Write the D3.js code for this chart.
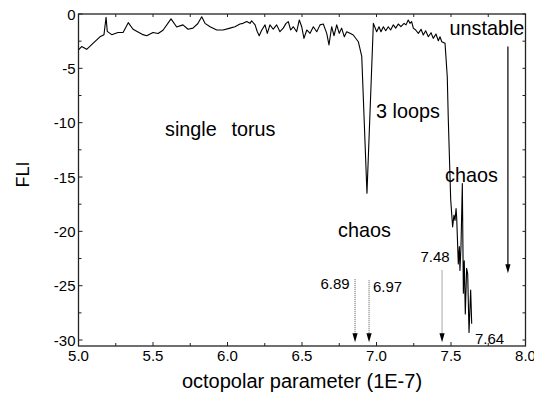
<!DOCTYPE html>
<html><head><meta charset="utf-8">
<script src="https://cdn.jsdelivr.net/npm/d3@7"></script>
<style>body{margin:0;background:#fff}svg{display:block;font-family:"Liberation Sans",Arial,sans-serif}</style>
</head><body><svg id="c" width="534" height="402"></svg>
<script>
const paramX = [5.000,5.021,5.055,5.097,5.144,5.171,5.185,5.193,5.223,5.265,5.299,5.334,5.366,5.433,5.458,5.500,5.534,5.567,5.621,5.659,5.701,5.735,5.768,5.800,5.827,5.849,5.883,5.928,5.970,6.017,6.050,6.084,6.104,6.129,6.151,6.162,6.185,6.200,6.213,6.230,6.252,6.267,6.285,6.307,6.330,6.352,6.374,6.393,6.408,6.424,6.442,6.464,6.482,6.498,6.513,6.532,6.554,6.576,6.599,6.621,6.643,6.666,6.681,6.699,6.715,6.733,6.750,6.766,6.784,6.800,6.822,6.844,6.878,6.901,6.936,6.979,7.001,7.017,7.030,7.046,7.062,7.079,7.095,7.113,7.129,7.146,7.164,7.185,7.198,7.213,7.225,7.236,7.247,7.263,7.281,7.299,7.314,7.330,7.348,7.366,7.381,7.399,7.415,7.426,7.438,7.460,7.475,7.482,7.498,7.511,7.520,7.527,7.534,7.538,7.549,7.556,7.560,7.567,7.576,7.583,7.589,7.596,7.605,7.612,7.621,7.632,7.639];
const fliValues = [-3.3,-3.0,-3.25,-2.7,-2.1,-1.9,-0.3,-1.6,-1.9,-1.7,-1.7,-0.8,-1.4,-1.9,-2.0,-1.7,-1.8,-1.5,-0.45,-1.2,-1.0,-1.4,-1.3,-0.9,-0.25,-0.86,-1.17,-1.47,-1.47,-1.3,-1.17,-0.92,-0.86,-0.7,-0.86,-0.62,-1.0,-1.63,-2.0,-1.47,-1.0,-1.78,-1.0,-1.4,-1.0,-1.63,-1.3,-0.86,-0.7,-1.47,-1.17,-1.63,-0.55,-1.17,-2.24,-1.47,-1.78,-1.17,-1.63,-1.0,-0.92,-1.78,-2.85,-1.17,-2.0,-1.0,-1.78,-1.3,-2.1,-1.63,-1.78,-1.93,-2.55,-3.9,-16.5,-0.86,-1.63,-1.17,-1.63,-1.17,-1.54,-1.17,-1.47,-1.0,-1.3,-0.92,-1.17,-0.86,-1.0,-0.55,-0.86,-0.7,-1.3,-1.47,-1.78,-1.41,-1.93,-1.54,-2.09,-1.72,-2.24,-1.84,-2.46,-2.09,-2.55,-2.7,-5.8,-9.76,-17.1,-19.6,-18.5,-19.0,-17.9,-18.7,-23.0,-21.4,-23.6,-21.4,-15.6,-25.7,-22.7,-27.6,-23.4,-23.9,-29.3,-25.4,-28.5];
const xTicks = [5.0,5.5,6.0,6.5,7.0,7.5,8.0];
const xTickLabels = ["5.0","5.5","6.0","6.5","7.0","7.5","8.0"];
const yTicks = [0,-5,-10,-15,-20,-25,-30];
const yTickLabels = ["0","-5","-10","-15","-20","-25","-30"];
// dotted arrows: x position, top value, tip value
const dottedArrowX = [6.856,6.950,7.440];
const dottedArrowTop = [-24.4,-24.5,-23.6];
const arrowTip = -30.2;
// solid arrow (unstable)
const solidArrowX = 7.882, solidArrowTop = -3.0, solidArrowTip = -23.85;
const labelTexts = ["6.89","6.97","7.48","7.64"];
const regionTexts = ["single","torus","3 loops","chaos","chaos","unstable"];

const svg = d3.select("#c");
const L=78.5,R=525.5,T=14,B=346;
const x = d3.scaleLinear().domain([5,8]).range([L,R]);
const y = d3.scaleLinear().domain([-30.55,0]).range([B,T]);
const axCol="#222";

// ticks
const minorX = d3.range(5,8.001,0.25);
const minorY = d3.range(0,-30.01,-2.5);
const g = svg.append("g").attr("stroke",axCol).attr("stroke-width",1);
minorX.forEach(v=>{
  const major = Math.abs(v*2-Math.round(v*2))<1e-6;
  const len = major?4:3;
  g.append("line").attr("x1",x(v)).attr("x2",x(v)).attr("y1",B).attr("y2",B-len);
  g.append("line").attr("x1",x(v)).attr("x2",x(v)).attr("y1",T).attr("y2",T+3);
});
minorY.forEach(v=>{
  const major = Math.abs(v/5-Math.round(v/5))<1e-6;
  const len = major?4:3;
  g.append("line").attr("x1",L).attr("x2",L+len).attr("y1",y(v)).attr("y2",y(v));
  g.append("line").attr("x1",R).attr("x2",R-3).attr("y1",y(v)).attr("y2",y(v));
});
// frame
svg.append("rect").attr("x",L).attr("y",T).attr("width",R-L).attr("height",B-T)
  .attr("fill","none").attr("stroke",axCol).attr("stroke-width",1.3);

// tick labels
svg.selectAll(".xt").data(xTicks).enter().append("text")
  .attr("x",d=>x(d)).attr("y",361).attr("text-anchor","middle")
  .attr("font-size",15).text((d,i)=>xTickLabels[i]);
svg.selectAll(".yt").data(yTicks).enter().append("text")
  .attr("x",L-3).attr("y",d=>y(d)+5.5).attr("text-anchor","end")
  .attr("font-size",15).text((d,i)=>yTickLabels[i]);

// axis titles
svg.append("text").attr("x",(L+R)/2).attr("y",388).attr("text-anchor","middle")
  .attr("font-size",20).text("octopolar parameter (1E-7)");
svg.append("text").attr("transform","translate(29,174.5) rotate(-90)")
  .attr("text-anchor","middle").attr("font-size",18).text("FLI");

// data line
const pts = paramX.map((v,i)=>[v,fliValues[i]]);
svg.append("path").datum(pts)
  .attr("d",d3.line().x(d=>x(d[0])).y(d=>y(d[1])))
  .attr("fill","none").attr("stroke","#000").attr("stroke-width",1.1).attr("stroke-linejoin","round");

// arrows
function head(xp,yp){
  svg.append("path").attr("d",`M${xp-2.6},${yp-9}L${xp+2.6},${yp-9}L${xp},${yp}Z`).attr("fill","#000");
}
dottedArrowX.forEach((v,i)=>{
  svg.append("line").attr("x1",x(v)).attr("x2",x(v)).attr("y1",y(dottedArrowTop[i])).attr("y2",y(arrowTip)-8)
    .attr("stroke","#555").attr("stroke-width",1).attr("stroke-dasharray","1,1");
  head(x(v),y(arrowTip));
});
svg.append("line").attr("x1",x(solidArrowX)).attr("x2",x(solidArrowX)).attr("y1",y(solidArrowTop)).attr("y2",y(solidArrowTip)-8)
  .attr("stroke","#000").attr("stroke-width",1.2);
head(x(solidArrowX),y(solidArrowTip));

// labels
const nums = [[320.5,289],[373,292],[420.5,262],[475,343.5]];
labelTexts.forEach((t,i)=>svg.append("text").attr("x",nums[i][0]).attr("y",nums[i][1]).attr("font-size",15).text(t));
const regs = [[165,136],[231.5,136],[376,118],[445,182],[338,237],[449.5,35]];
regionTexts.forEach((t,i)=>svg.append("text").attr("x",regs[i][0]).attr("y",regs[i][1]).attr("font-size",19.8).text(t));
</script></body></html>
